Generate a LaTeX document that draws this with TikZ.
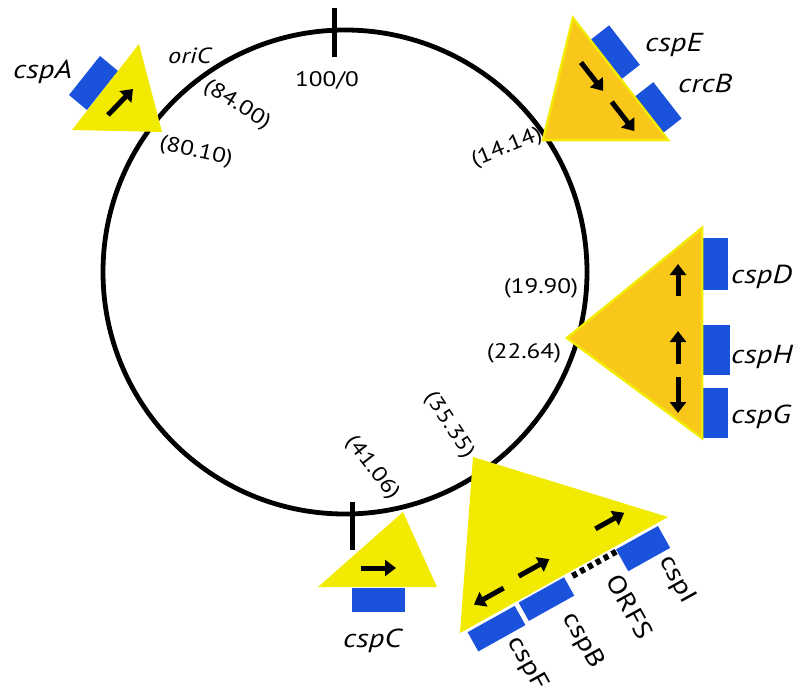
\documentclass[tikz,border=0pt]{standalone}
\usepackage{fontspec}
\setmainfont{PT Sans}[FakeStretch=1.2]
\usetikzlibrary{arrows.meta}
\definecolor{yel}{HTML}{F2EA00}
\definecolor{org}{HTML}{F8C71A}
\definecolor{blu}{HTML}{1A52DC}
\begin{document}
\begin{tikzpicture}[x=1pt,y=-1pt,
  gene/.style={font=\itshape\fontsize{26}{30}\selectfont, inner sep=0pt},
  smallgene/.style={font=\itshape\fontsize{22}{26}\selectfont, inner sep=0pt},
  plain/.style={font=\fontsize{25}{30}\selectfont, inner sep=0pt},
  num/.style={font=\fontsize{21}{25}\selectfont, inner sep=0pt},
  arr/.style={line width=5pt, -{Triangle[width=16pt,length=11pt]}},
  ytri/.style={fill=yel},
  otri/.style={fill=org, draw=yel, line width=2.5pt, line join=miter},
  gbox/.style={fill=blu},
  tick/.style={line width=5pt}]
\useasboundingbox (0,0) rectangle (798,696);
% chromosome
\draw[line width=4.8pt] (345,272) circle[radius=242pt];
\draw[tick] (334,8) -- (334,57);
\draw[tick] (352,502) -- (352,550);
% cspA
\fill[gbox] (100,56) -- (118,71) -- (87,110) -- (69,95) -- cycle;
\fill[ytri] (139,44) -- (72,130) -- (162,132) -- cycle;
\draw[arr] (108,115) -- (133,89);
% cspE / crcB
\begin{scope}[shift={(573,18)}, rotate=-52.1]
  \fill[gbox] (28,0) rectangle (78,-24);
  \fill[gbox] (100,0) rectangle (146,-24);
\end{scope}
\filldraw[otri] (573,18) -- (543,140) -- (668,140) -- cycle;
\begin{scope}[shift={(573,18)}, rotate=-52.1]
  \draw[arr] (40,21) -- (76,21);
  \draw[arr] (90,21) -- (127,21);
\end{scope}
% cspD / cspH / cspG
\fill[gbox] (703,238) rectangle (728,290);
\fill[gbox] (703,325) rectangle (730,375);
\fill[gbox] (703,388) rectangle (728,438);
\filldraw[otri] (567,338) -- (702,228) -- (702,438) -- cycle;
\draw[arr] (678,296) -- (678,264);
\draw[arr] (678,364) -- (678,331);
\draw[arr] (678,377) -- (678,413);
% cspC
\fill[ytri] (403,512) -- (318,587) -- (437,587) -- cycle;
\fill[gbox] (352,588) rectangle (405,612);
\draw[arr] (361,568) -- (396,568);
% cspF / cspB / ORFS / cspI
\fill[ytri] (473,457) -- (668,517) -- (460,633) -- cycle;
\begin{scope}[shift={(460,633)}, rotate=29.15]
  \fill[gbox] (7,3) rectangle (61,25);
  \fill[gbox] (66,2) rectangle (118,23);
  \fill[gbox] (177,3) rectangle (225,28);
  \draw[line width=6pt, dash pattern=on 5pt off 4pt] (126,5) -- (177,5);
  \draw[arr] (60,-18) -- (26,-18);
  \draw[arr] (79,-21) -- (114,-21);
  \draw[arr] (169,-25) -- (202,-25);
\end{scope}
% gene labels
\node[gene, anchor=base west] (lA) at (13,78) {cspA};
\node[smallgene, anchor=base west] (lori) at (168,63) {oriC};
\node[gene, anchor=base west] (lE) at (645,51) {cspE};
\node[gene, anchor=base west] (lcrc) at (678,92) {crcB};
\node[gene, anchor=base west] (lD) at (731,283) {cspD};
\node[gene, anchor=base west] (lH) at (731,363) {cspH};
\node[gene, anchor=base west] (lG) at (731,423) {cspG};
\node[gene, anchor=base west] (lC) at (343,647) {cspC};
\node[plain, rotate=-61] (lF) at (527,664) {cspF};
\node[plain, rotate=-61] (lB) at (583,641) {cspB};
\node[plain, rotate=-61] (lORF) at (630,607) {ORFS};
\node[plain, rotate=-61] (lI) at (677,580) {cspI};
% map positions
\node[num] (n0) at (327,80) {100/0};
\node[num, rotate=-32] (n84) at (237,105) {(84.00)};
\node[num, rotate=-13] (n80) at (196,152) {(80.10)};
\node[num, rotate=22] (n14) at (507,148) {(14.14)};
\node[num] (n19) at (541,288) {(19.90)};
\node[num] (n22) at (524,353) {(22.64)};
\node[num, rotate=-52] (n41) at (372,468) {(41.06)};
\node[num, rotate=-57] (n35) at (449,425) {(35.35)};
\end{tikzpicture}
\end{document}
